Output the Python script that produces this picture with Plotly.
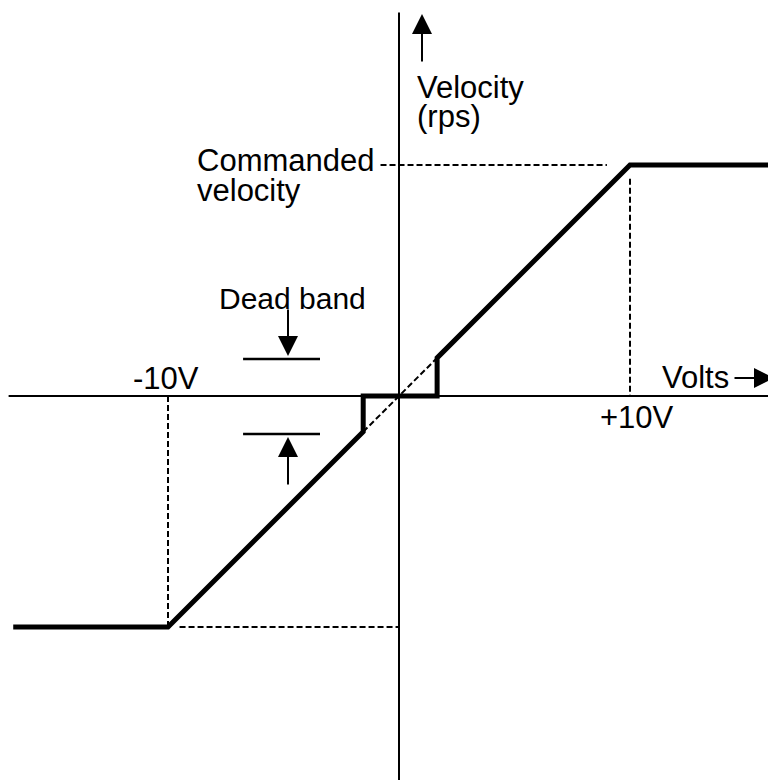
import plotly.graph_objects as go

# ---- data (volts, rps units; commanded velocity = 10) ----
resp_volts = [-16.7, -10.0, -1.55, -1.55, 1.65, 1.65, 10.0, 16.4]
resp_vel = [-10.0, -10.0, -1.55, 0.0, 0.0, 1.65, 10.0, 10.0]

ideal_volts = [-1.55, 1.65]
ideal_vel = [-1.55, 1.65]

guide_neg_v_x = [-10.0, -10.0]
guide_neg_v_y = [0.0, -10.0]
guide_neg_h_x = [-9.5, 0.0]
guide_neg_h_y = [-10.0, -10.0]
guide_pos_v_x = [10.0, 10.0]
guide_pos_v_y = [9.4, 0.0]
guide_pos_h_x = [-0.8, 9.0]
guide_pos_h_y = [10.0, 10.0]

xaxis_x = [-16.9, 16.4]
xaxis_y = [0.0, 0.0]
yaxis_x = [0.0, 0.0]
yaxis_y = [16.6, -16.8]

deadband_top_x = [-6.75, -3.42]
deadband_top_y = [1.6, 1.6]
deadband_bot_x = [-6.75, -3.42]
deadband_bot_y = [-1.65, -1.65]

# pixel mapping (page body has an 8px margin)
S = 23.1
OX, OY = 399, 396
W, H = 776, 780
M = 8
x_range = [(M - OX) / S, (W - OX) / S]
y_range = [(OY - H) / S, (OY - M) / S]

fig = go.Figure()

def line(x, y, width, dash="solid"):
    fig.add_trace(go.Scatter(x=x, y=y, mode="lines",
                             line=dict(color="black", width=width, dash=dash),
                             hoverinfo="skip", showlegend=False))

line(xaxis_x, xaxis_y, 2)
line(yaxis_x, yaxis_y, 2)
dash = "6px,3px"
line(guide_neg_v_x, guide_neg_v_y, 2, dash)
line(guide_neg_h_x, guide_neg_h_y, 2, dash)
line(guide_pos_v_x, guide_pos_v_y, 2, dash)
line(guide_pos_h_x, guide_pos_h_y, 2, dash)
line(ideal_volts, ideal_vel, 2, dash)
line(deadband_top_x, deadband_top_y, 2.5)
line(deadband_bot_x, deadband_bot_y, 2.5)
line(resp_volts, resp_vel, 5)

FONT = dict(family="Liberation Sans, Arial, sans-serif", size=31, color="black")

def text(t, x, y, xanchor="left", size=31):
    f = dict(FONT)
    f["size"] = size
    fig.add_annotation(x=x, y=y, text=t, showarrow=False, xanchor=xanchor,
                       yanchor="middle", font=f, xref="x", yref="y")

def px(p):
    return (p - OX) / S

def py(q):
    return (OY - q) / S

text("Velocity", px(415), py(87))
text("(rps)", px(415), py(116))
text("Commanded", px(376), py(160), "right")
text("velocity", px(195), py(190))
text("Dead band", px(292), py(298), "center", 30)
text("-10V", px(131), py(378))
text("+10V", px(598), py(417))
text("Volts", px(660), py(377))

def arrow(x0, y0, x1, y1):
    fig.add_annotation(x=x1, y=y1, ax=x0, ay=y0, xref="x", yref="y",
                       axref="x", ayref="y", text="", showarrow=True,
                       arrowhead=2, arrowsize=2, arrowwidth=2,
                       arrowcolor="black")

arrow(px(422), py(63), px(422), py(14))
arrow(px(733), py(378), px(774), py(378))
arrow(px(288), py(308), px(288), py(356))
arrow(px(288), py(486), px(288), py(437))

fig.update_layout(
    width=W - M, height=H - M,
    margin=dict(l=0, r=0, t=0, b=0),
    paper_bgcolor="white", plot_bgcolor="white",
    xaxis=dict(range=x_range, visible=False, fixedrange=True),
    yaxis=dict(range=y_range, visible=False, fixedrange=True),
)

fig.write_html("out.html")
